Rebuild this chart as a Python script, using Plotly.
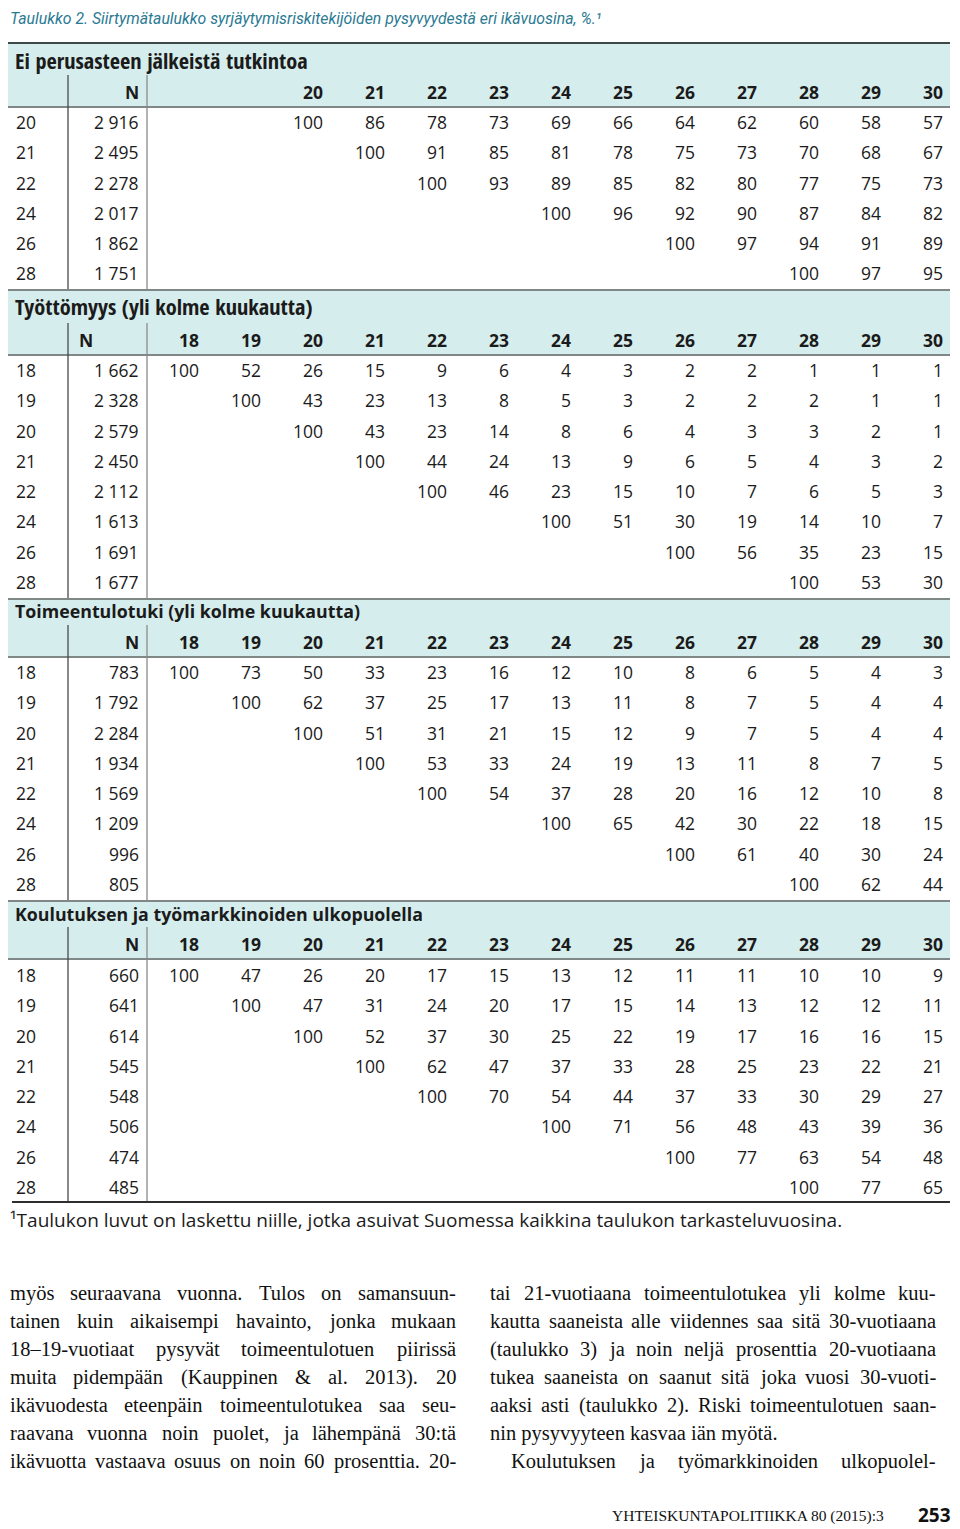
import plotly.graph_objects as go

# ---------------- data ----------------
title_text = "Taulukko 2. Siirtymätaulukko syrjäytymisriskitekijöiden pysyvyydestä eri ikävuosina, %.¹"
footnote_text = "¹Taulukon luvut on laskettu niille, jotka asuivat Suomessa kaikkina taulukon tarkasteluvuosina."

column_ages = [18, 19, 20, 21, 22, 23, 24, 25, 26, 27, 28, 29, 30]

sec1_title = "Ei perusasteen jälkeistä tutkintoa"
sec1_cols = [20, 21, 22, 23, 24, 25, 26, 27, 28, 29, 30]
sec1_rows = [20, 21, 22, 24, 26, 28]
sec1_n = ["2 916", "2 495", "2 278", "2 017", "1 862", "1 751"]
sec1_values = [
    [100, 86, 78, 73, 69, 66, 64, 62, 60, 58, 57],
    [100, 91, 85, 81, 78, 75, 73, 70, 68, 67],
    [100, 93, 89, 85, 82, 80, 77, 75, 73],
    [100, 96, 92, 90, 87, 84, 82],
    [100, 97, 94, 91, 89],
    [100, 97, 95],
]

sec2_title = "Työttömyys (yli kolme kuukautta)"
sec2_cols = [18, 19, 20, 21, 22, 23, 24, 25, 26, 27, 28, 29, 30]
sec2_rows = [18, 19, 20, 21, 22, 24, 26, 28]
sec2_n = ["1 662", "2 328", "2 579", "2 450", "2 112", "1 613", "1 691", "1 677"]
sec2_values = [
    [100, 52, 26, 15, 9, 6, 4, 3, 2, 2, 1, 1, 1],
    [100, 43, 23, 13, 8, 5, 3, 2, 2, 2, 1, 1],
    [100, 43, 23, 14, 8, 6, 4, 3, 3, 2, 1],
    [100, 44, 24, 13, 9, 6, 5, 4, 3, 2],
    [100, 46, 23, 15, 10, 7, 6, 5, 3],
    [100, 51, 30, 19, 14, 10, 7],
    [100, 56, 35, 23, 15],
    [100, 53, 30],
]

sec3_title = "Toimeentulotuki (yli kolme kuukautta)"
sec3_cols = [18, 19, 20, 21, 22, 23, 24, 25, 26, 27, 28, 29, 30]
sec3_rows = [18, 19, 20, 21, 22, 24, 26, 28]
sec3_n = ["783", "1 792", "2 284", "1 934", "1 569", "1 209", "996", "805"]
sec3_values = [
    [100, 73, 50, 33, 23, 16, 12, 10, 8, 6, 5, 4, 3],
    [100, 62, 37, 25, 17, 13, 11, 8, 7, 5, 4, 4],
    [100, 51, 31, 21, 15, 12, 9, 7, 5, 4, 4],
    [100, 53, 33, 24, 19, 13, 11, 8, 7, 5],
    [100, 54, 37, 28, 20, 16, 12, 10, 8],
    [100, 65, 42, 30, 22, 18, 15],
    [100, 61, 40, 30, 24],
    [100, 62, 44],
]

sec4_title = "Koulutuksen ja työmarkkinoiden ulkopuolella"
sec4_cols = [18, 19, 20, 21, 22, 23, 24, 25, 26, 27, 28, 29, 30]
sec4_rows = [18, 19, 20, 21, 22, 24, 26, 28]
sec4_n = ["660", "641", "614", "545", "548", "506", "474", "485"]
sec4_values = [
    [100, 47, 26, 20, 17, 15, 13, 12, 11, 11, 10, 10, 9],
    [100, 47, 31, 24, 20, 17, 15, 14, 13, 12, 12, 11],
    [100, 52, 37, 30, 25, 22, 19, 17, 16, 16, 15],
    [100, 62, 47, 37, 33, 28, 25, 23, 22, 21],
    [100, 70, 54, 44, 37, 33, 30, 29, 27],
    [100, 71, 56, 48, 43, 39, 36],
    [100, 77, 63, 54, 48],
    [100, 77, 65],
]

left_column_lines = [
    "myös seuraavana vuonna. Tulos on samansuun-",
    "tainen kuin aikaisempi havainto, jonka mukaan",
    "18–19-vuotiaat pysyvät toimeentulotuen piirissä",
    "muita pidempään (Kauppinen & al. 2013). 20",
    "ikävuodesta eteenpäin toimeentulotukea saa seu-",
    "raavana vuonna noin puolet, ja lähempänä 30:tä",
    "ikävuotta vastaava osuus on noin 60 prosenttia. 20-",
]
right_column_lines = [
    "tai 21-vuotiaana toimeentulotukea yli kolme kuu-",
    "kautta saaneista alle viidennes saa sitä 30-vuotiaana",
    "(taulukko 3) ja noin neljä prosenttia 20-vuotiaana",
    "tukea saaneista on saanut sitä joka vuosi 30-vuoti-",
    "aaksi asti (taulukko 2). Riski toimeentulotuen saan-",
    "nin pysyvyyteen kasvaa iän myötä.",
    "Koulutuksen ja työmarkkinoiden ulkopuolel-",
]
right_last_para_line = 5  # line that ends a paragraph (not justified)
right_indent_line = 6

footer_journal = "YHTEISKUNTAPOLITIIKKA 80 (2015):3"
footer_page = "253"

# ---------------- style / layout ----------------
W, H = 960, 1529
PAGE_MARGIN = 8  # default body margin of the html page
SANS = "Open Sans, Noto Sans, sans-serif"
NARROW = "Open Sans Condensed, Liberation Sans, sans-serif"
TITLE_FONT = "Roboto, Liberation Sans, sans-serif"
SERIF = "Liberation Serif, DejaVu Serif, serif"
TXT = "#1b1b1b"
BAND = "#d6eded"
DARK_LINE = "#3e4848"
GREY_LINE = "#7f8787"
FS = 17.5

TABLE_L, TABLE_R = 8, 950
COL0_RIGHT, COL_STEP = 200, 62
ROW_LABEL_X, N_RIGHT = 15, 140
VLINE1_X, VLINE2_X = 68, 147
ROW_STEP = 30.25

sections = [
    dict(title=sec1_title, cols=sec1_cols, rows=sec1_rows, n=sec1_n, vals=sec1_values,
         top=43, title_y=60, header_y=92, hline=107, row0=122, bottom=289, n_left=False, title_font=NARROW, title_size=22.3),
    dict(title=sec2_title, cols=sec2_cols, rows=sec2_rows, n=sec2_n, vals=sec2_values,
         top=290, title_y=306, header_y=340, hline=355, row0=370, bottom=598, n_left=True, title_font=NARROW, title_size=22.3),
    dict(title=sec3_title, cols=sec3_cols, rows=sec3_rows, n=sec3_n, vals=sec3_values,
         top=599, title_y=611, header_y=642, hline=657, row0=672, bottom=900, n_left=False, title_font=SANS, title_size=17.8),
    dict(title=sec4_title, cols=sec4_cols, rows=sec4_rows, n=sec4_n, vals=sec4_values,
         top=901, title_y=914, header_y=944, hline=959, row0=975, bottom=1202, n_left=False, title_font=SANS, title_size=17.8),
]


def col_x(age):
    return COL0_RIGHT + COL_STEP * column_ages.index(age)


annotations = []
shapes = []


def text(x, y, s, anchor="left", font=SANS, size=FS, color=TXT, bold=False):
    annotations.append(dict(
        x=x, y=y, xref="x", yref="y", text=("<b>%s</b>" % s) if bold else s,
        showarrow=False, xanchor=anchor, yanchor="middle",
        font=dict(family=font, size=size, color=color), borderpad=0))


# title
text(8.5, 18.5, "<i>%s</i>" % title_text, font=TITLE_FONT, size=15.8, color="#2b7a94")

for si, sec in enumerate(sections):
    shapes.append(dict(type="rect", xref="x", yref="y", x0=TABLE_L, x1=TABLE_R,
                       y0=sec["top"], y1=sec["hline"], fillcolor=BAND, line=dict(width=0), layer="below"))
    shapes.append(dict(type="line", xref="x", yref="y", x0=TABLE_L, x1=TABLE_R,
                       y0=sec["top"], y1=sec["top"],
                       line=dict(color=DARK_LINE if si == 0 else GREY_LINE, width=2)))
    shapes.append(dict(type="line", xref="x", yref="y", x0=TABLE_L, x1=TABLE_R,
                       y0=sec["hline"], y1=sec["hline"], line=dict(color=GREY_LINE, width=2)))
    vt = sec["header_y"] - 17
    shapes.append(dict(type="line", xref="x", yref="y", x0=VLINE1_X, x1=VLINE1_X,
                       y0=vt, y1=sec["bottom"], line=dict(color="#4a4a4a", width=1.3)))
    shapes.append(dict(type="line", xref="x", yref="y", x0=VLINE2_X, x1=VLINE2_X,
                       y0=vt, y1=sec["bottom"], line=dict(color="#8a8a8a", width=1.3)))
    text(14, sec["title_y"], sec["title"], font=sec["title_font"], size=sec["title_size"], bold=True)
    if sec["n_left"]:
        text(78, sec["header_y"], "N", bold=True)
    else:
        text(N_RIGHT, sec["header_y"], "N", anchor="right", bold=True)
    for c in sec["cols"]:
        text(col_x(c), sec["header_y"], str(c), anchor="right", bold=True)
    for ri, (age, n, vals) in enumerate(zip(sec["rows"], sec["n"], sec["vals"])):
        y = sec["row0"] + ri * ROW_STEP
        text(ROW_LABEL_X, y, str(age))
        text(N_RIGHT, y, n, anchor="right")
        start = column_ages.index(age)
        for k, v in enumerate(vals):
            text(col_x(column_ages[start + k]), y, str(v), anchor="right")

shapes.append(dict(type="line", xref="x", yref="y", x0=12, x1=950, y0=1202, y1=1202,
                   line=dict(color="#2e2e2e", width=2)))

text(8.5, 1220, footnote_text, font=SANS, size=19)

# ---------- justified body text (Times metrics, per 1000 em) ----------
TW = {' ': 250, '.': 250, ',': 250, '-': 333, '–': 500, '(': 333, ')': 333, '&': 778, ':': 278,
      'a': 444, 'b': 500, 'c': 444, 'd': 500, 'e': 444, 'f': 333, 'g': 500, 'h': 500, 'i': 278,
      'j': 278, 'k': 500, 'l': 278, 'm': 778, 'n': 500, 'o': 500, 'p': 500, 'q': 500, 'r': 333,
      's': 389, 't': 278, 'u': 500, 'v': 500, 'w': 722, 'x': 500, 'y': 500, 'z': 444,
      'ä': 444, 'ö': 500, 'K': 722, 'R': 667, 'T': 611}
BODY_FS = 20.5


def wwidth(w):
    return sum(TW.get(ch, 500) for ch in w) * BODY_FS / 1000.0


def justified(lines, x0, x1, y0, step, no_justify=(), indents=None):
    indents = indents or {}
    for li, line in enumerate(lines):
        y = y0 + li * step
        xs = x0 + indents.get(li, 0)
        words = line.split(" ")
        if li in no_justify or len(words) == 1:
            text(xs, y, line, font=SERIF, size=BODY_FS, color="#111111")
            continue
        widths = [wwidth(w) for w in words]
        gap = (x1 - xs - sum(widths)) / (len(words) - 1)
        x = xs
        for w, ww in zip(words, widths):
            text(x, y, w, font=SERIF, size=BODY_FS, color="#111111")
            x += ww + gap


justified(left_column_lines, 8.5, 455, 1293, 28)
justified(right_column_lines, 489, 935, 1293, 28, no_justify=(right_last_para_line,),
          indents={right_indent_line: 21})

text(885, 1516, footer_journal, anchor="right", font=SERIF, size=15.5, color="#111111")
text(952, 1515, footer_page, anchor="right", font=SANS, size=19, color="#111111", bold=True)

fig = go.Figure(go.Scatter(x=[PAGE_MARGIN + 1], y=[PAGE_MARGIN + 1], mode="markers", marker=dict(opacity=0),
                           hoverinfo="skip", showlegend=False))
fig.update_layout(
    width=W - PAGE_MARGIN, height=H - PAGE_MARGIN, margin=dict(l=0, r=0, t=0, b=0),
    paper_bgcolor="white", plot_bgcolor="white",
    xaxis=dict(range=[PAGE_MARGIN, W], visible=False, fixedrange=True),
    yaxis=dict(range=[H, PAGE_MARGIN], visible=False, fixedrange=True),
    annotations=annotations, shapes=shapes, showlegend=False,
)
fig.write_html("out.html")
